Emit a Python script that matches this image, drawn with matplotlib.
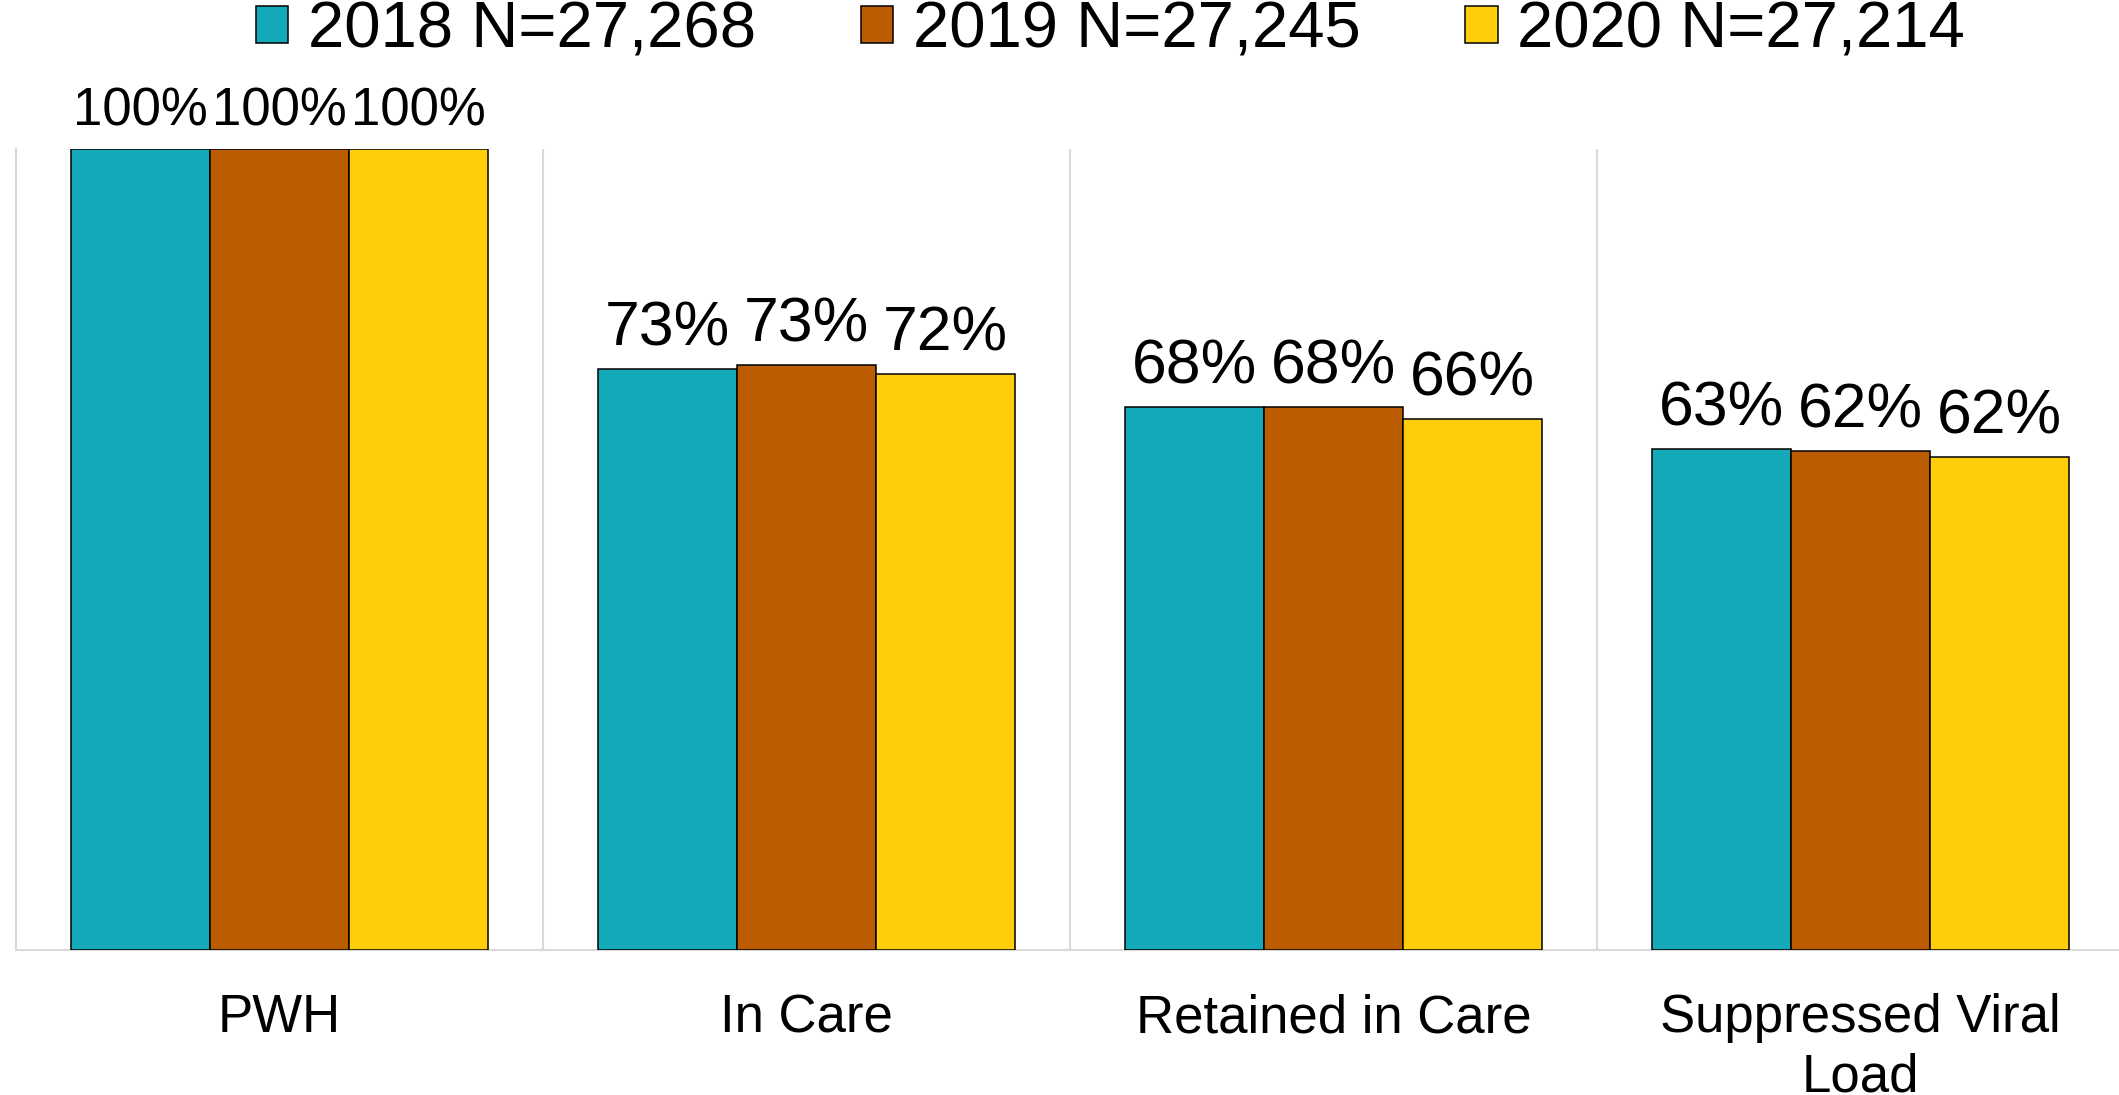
import numpy as np
import matplotlib
matplotlib.use("Agg")
import matplotlib.pyplot as plt

plt.rcParams['font.family'] = ['Liberation Sans', 'DejaVu Sans']

# Dados
categorias = ["PWH", "In Care", "Retained in Care", "Suppressed Viral\nLoad"]
series = ["2018 N=27,268", "2019 N=27,245", "2020 N=27,214"]
valores_2018 = [100, 72.5, 67.8, 62.5]
valores_2019 = [100, 73.0, 67.8, 62.3]
valores_2020 = [100, 71.9, 66.3, 61.5]
rotulos_2018 = ["100%", "73%", "68%", "63%"]
rotulos_2019 = ["100%", "73%", "68%", "62%"]
rotulos_2020 = ["100%", "72%", "66%", "62%"]

cores = ["#14A9B8", "#BC5C00", "#FECE0A"]

valores = [valores_2018, valores_2019, valores_2020]
rotulos = [rotulos_2018, rotulos_2019, rotulos_2020]

fig = plt.figure(figsize=(21.19, 10.95), dpi=100)
ax = fig.add_axes([16 / 2119, 145 / 1095, 2108 / 2119, 801 / 1095])

x = np.arange(len(categorias))
largura = 0.264

for i, (vals, labs) in enumerate(zip(valores, rotulos)):
    pos = x + (i - 1) * largura
    ax.bar(pos, vals, width=largura, color=cores[i], edgecolor="black",
           linewidth=1.1, label=series[i], zorder=3)
    for xp, v, t in zip(pos, vals, labs):
        tamanho = 38 if v >= 100 else 45
        ax.annotate(t, (xp, v), xytext=(0, 17), textcoords="offset points",
                    ha="center", va="baseline", fontsize=tamanho,
                    annotation_clip=False)

ax.set_xlim(-0.5, len(categorias) - 0.5)
ax.set_ylim(0, 100)
ax.set_yticks([])
ax.set_xticks(x)
ax.set_xticklabels(categorias, fontsize=38, linespacing=1.25)
ax.tick_params(axis="x", length=0, pad=31)

# Separadores verticais entre categorias
ax.set_xticks(x[:-1] + 0.5, minor=True)
ax.tick_params(axis="x", which="minor", length=0)
ax.grid(True, axis="x", which="minor", color="#d9d9d9", linewidth=1.5, zorder=0)

for lado in ["top", "right"]:
    ax.spines[lado].set_visible(False)
for lado in ["left", "bottom"]:
    ax.spines[lado].set_color("#d9d9d9")
    ax.spines[lado].set_linewidth(1.5)

fig.legend(loc="center", bbox_to_anchor=(0.524, 0.972), ncol=3, frameon=False,
           fontsize=47, handlelength=0.5, handleheight=0.5, handletextpad=0.3,
           columnspacing=1.6, borderpad=0, borderaxespad=0)

plt.savefig("out.png", dpi=100)
